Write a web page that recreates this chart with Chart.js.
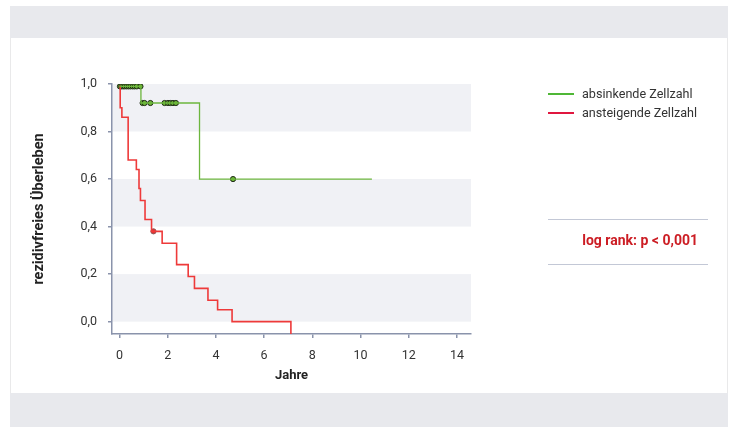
<!DOCTYPE html>
<html><head><meta charset="utf-8">
<script src="https://cdn.jsdelivr.net/npm/chart.js@4/dist/chart.umd.min.js"></script>
<style>
html,body{margin:0;padding:0;background:#fff;width:734px;height:427px;overflow:hidden;font-family:Roboto,sans-serif;}
.band{position:absolute;left:10px;width:718px;background:#e8e9ed;}
.vline{position:absolute;top:38px;height:355px;width:1px;background:#e9e9ea;}
#wrap{position:absolute;left:0;top:0;width:734px;height:427px;}
.leg{position:absolute;left:548px;font-size:12.6px;color:#333;height:18px;line-height:18px;}
.leg i{position:absolute;left:0;top:8px;width:26px;height:2px;}
.leg span{position:absolute;left:34px;white-space:nowrap;}
.sep{position:absolute;left:548px;width:160px;height:1px;background:#c3c8d6;}
#lr{position:absolute;right:36px;top:232px;font-weight:bold;color:#cc1d24;font-size:14px;white-space:nowrap;}
</style></head>
<body>
<div class="band" style="top:6px;height:32px"></div>
<div class="band" style="top:393px;height:34px"></div>
<div class="vline" style="left:10px"></div>
<div class="vline" style="left:727px"></div>
<div id="wrap"><canvas id="c" width="734" height="427"></canvas></div>
<div class="leg" style="top:85px"><i style="background:#4fb736"></i><span>absinkende Zellzahl</span></div>
<div class="leg" style="top:104px"><i style="background:#e0173f"></i><span>ansteigende Zellzahl</span></div>
<div class="sep" style="top:219px"></div>
<div class="sep" style="top:264px"></div>
<div id="lr">log rank: p &lt; 0,001</div>
<script>
// Kaplan-Meier steps
const seriesNames = ["absinkende Zellzahl", "ansteigende Zellzahl"];
const greenTimes  = [0, 0.89, 3.32, 10.47];
const greenValues = [0.99, 0.92, 0.60, 0.60];
const redTimes  = [0, 0.03, 0.10, 0.36, 0.70, 0.81, 0.87, 1.06, 1.33, 1.77, 2.37, 2.85, 3.11, 3.67, 4.07, 4.67, 7.11, 7.11];
const redValues = [0.99, 0.90, 0.86, 0.68, 0.64, 0.56, 0.51, 0.43, 0.38, 0.33, 0.24, 0.19, 0.14, 0.09, 0.05, 0.00, 0.00, -0.06];
// censored observations
const greenCensTimes  = [0.02, 0.08, 0.15, 0.22, 0.30, 0.38, 0.46, 0.55, 0.63, 0.72, 0.87, 0.96, 1.04, 1.28, 1.87, 2.01, 2.11, 2.22, 2.34, 4.71];
const greenCensValues = [0.99, 0.99, 0.99, 0.99, 0.99, 0.99, 0.99, 0.99, 0.99, 0.99, 0.99, 0.92, 0.92, 0.92, 0.92, 0.92, 0.92, 0.92, 0.92, 0.60];
const redCensTimes  = [1.41];
const redCensValues = [0.38];
const xTicks = [0, 2, 4, 6, 8, 10, 12, 14];
const yTicks = [0, 0.2, 0.4, 0.6, 0.8, 1.0];
const shadedBands = [[0.8, 1.0], [0.4, 0.6], [0.0, 0.2]];

const pts = (xs, ys) => xs.map((x, i) => ({x: x, y: ys[i]}));
const FONT = 'Roboto, sans-serif';

const bandPlugin = {
  id: 'bands',
  beforeDraw(chart) {
    const {ctx, chartArea: a, scales: {y}} = chart;
    ctx.save();
    ctx.fillStyle = '#f0f1f5';
    shadedBands.forEach(([lo, hi]) => {
      const t = y.getPixelForValue(hi), b = y.getPixelForValue(lo);
      ctx.fillRect(a.left, t, a.right - a.left, b - t);
    });
    ctx.restore();
  }
};

new Chart(document.getElementById('c'), {
  type: 'scatter',
  data: {
    datasets: [
      {label: seriesNames[0], data: pts(greenTimes, greenValues), showLine: true, stepped: true,
       borderColor: 'rgb(108,182,62)', borderWidth: 1.3, pointRadius: 0, fill: false},
      {label: seriesNames[1], data: pts(redTimes, redValues), showLine: true, stepped: true,
       borderColor: 'rgb(238,58,58)', borderWidth: 1.6, pointRadius: 0, fill: false},
      {label: 'zensiert 1', data: pts(greenCensTimes, greenCensValues), showLine: false,
       pointRadius: 2.6, pointBackgroundColor: '#6ab432', pointBorderColor: '#1f2a18', pointBorderWidth: 1},
      {label: 'zensiert 2', data: pts(redCensTimes, redCensValues), showLine: false,
       pointRadius: 2.6, pointBackgroundColor: '#e03232', pointBorderColor: '#8a5a5a', pointBorderWidth: 1}
    ]
  },
  options: {
    responsive: false,
    animation: false,
    events: [],
    layout: {padding: {left: 27, top: 84, right: 263, bottom: 39}},
    plugins: {legend: {display: false}, tooltip: {enabled: false}},
    scales: {
      x: {
        type: 'linear', min: -0.31, max: 14.58,
        afterBuildTicks: s => { s.ticks = xTicks.map(v => ({value: v})); },
        afterFit: s => { s.height = 54; },
        border: {color: '#8a93ab', width: 1.5},
        grid: {drawOnChartArea: false, drawTicks: true, tickLength: 4, color: '#8a93ab', lineWidth: 1.5},
        ticks: {padding: 10, color: '#333', font: {family: FONT, size: 12.5}, callback: v => String(v)},
        title: {display: true, text: 'Jahre', color: '#222', font: {family: FONT, size: 13, weight: 'bold'}}
      },
      y: {
        type: 'linear', min: -0.052, max: 1.0,
        afterBuildTicks: s => { s.ticks = yTicks.map(v => ({value: v})); },
        afterFit: s => { s.width = 85; },
        border: {color: '#8a93ab', width: 1.5},
        grid: {drawOnChartArea: false, drawTicks: true, tickLength: 4, color: '#8a93ab', lineWidth: 1.5},
        ticks: {padding: 11, color: '#333', font: {family: FONT, size: 12.5},
                callback: v => v.toFixed(1).replace('.', ',')},
        title: {display: true, text: 'rezidivfreies Überleben', color: '#222', font: {family: FONT, size: 14.5, weight: 'bold'}}
      }
    }
  },
  plugins: [bandPlugin]
});
</script>
</body></html>
